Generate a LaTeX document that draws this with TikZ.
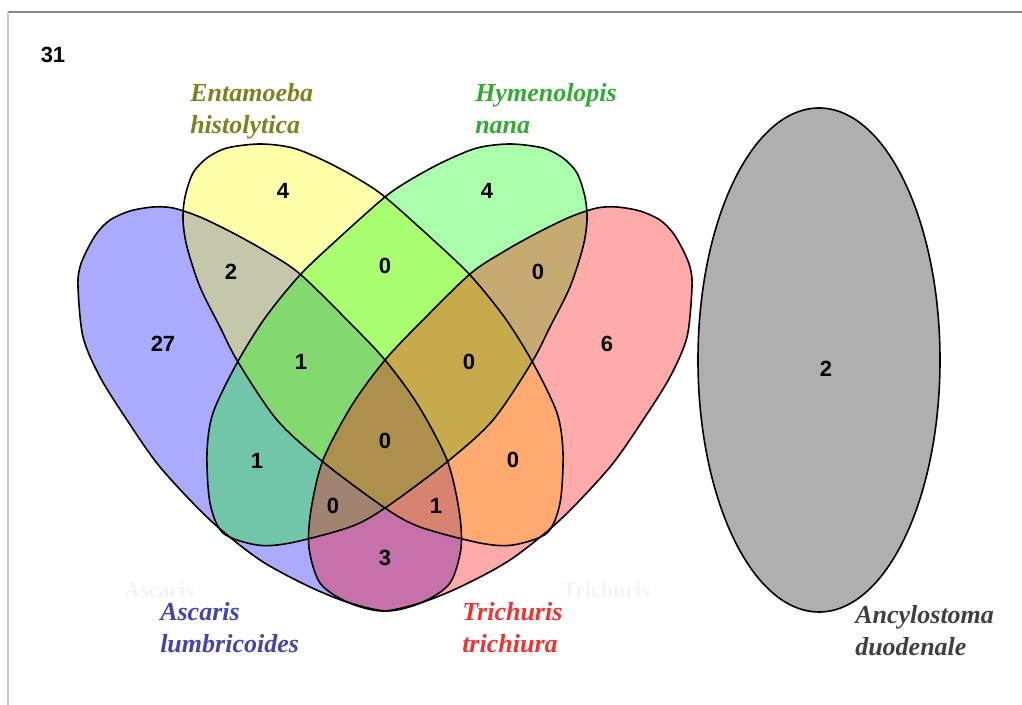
\documentclass[tikz,border=0pt]{standalone}
\usepackage{fontspec}
\setmainfont{Liberation Serif}
\setsansfont{Liberation Sans}
\definecolor{ascfill}{RGB}{0,0,255}
\definecolor{entfill}{RGB}{255,255,0}
\definecolor{hymfill}{RGB}{0,255,0}
\definecolor{trifill}{RGB}{255,0,0}
\definecolor{ancfill}{RGB}{175,175,175}
\definecolor{asctext}{RGB}{68,68,170}
\definecolor{enttext}{RGB}{128,128,32}
\definecolor{hymtext}{RGB}{51,170,51}
\definecolor{tritext}{RGB}{238,51,51}
\definecolor{anctext}{RGB}{64,64,64}
\definecolor{ghost}{RGB}{242,242,252}
\tikzset{
  setfill/.style={fill=#1,fill opacity=0.3333},
  setline/.style={draw=black,line width=1.2pt},
  countlbl/.style={font=\fontsize{16.5}{19}\sffamily\bfseries,inner sep=0pt},
  setname/.style={font=\fontsize{19.5}{24}\bfseries\itshape,text=#1,align=left,anchor=base west,inner sep=0pt},
  ghostname/.style={font=\fontsize{16.5}{20}\bfseries,text=ghost,anchor=base west,inner sep=0pt}
}
% outer set (left one, mirrored for the right one)
\newcommand\outershape{plot[smooth cycle,tension=0.5] coordinates {(78,287) (80,267) (87,250) (97,233) (110,220) (130,211) (153,207) (173,208) (200,217) (233,233) (267,252) (300,274) (350,323) (385,360) (418,405) (447,460) (459,510) (461,548) (450,583) (423,602) (388,611) (350,603) (310,587) (260,560) (210,520) (160,467) (127,420) (100,377) (83,337)}}
% inner set (left one, mirrored for the right one)
\newcommand\innershape{plot[smooth cycle,tension=0.5] coordinates {(260,144) (293,148) (327,162) (360,180) (385,197) (430,237) (470,275) (505,318) (533,363) (557,413) (563,453) (560,503) (547,533) (513,545) (480,543) (420,527) (385,508) (323,462) (277,420) (238,362) (220,327) (200,287) (187,247) (183,220) (185,197) (193,173) (207,158) (227,148)}}
\begin{document}
\begin{tikzpicture}[x=0.75pt,y=-0.75pt]
  \useasboundingbox (0,0) rectangle (1022,705);
  \draw[line width=1.1pt,color={rgb,255:red,136;green,136;blue,136}] (8,12) -- (1022,12);
  \draw[line width=1.1pt,color={rgb,255:red,200;green,200;blue,200}] (8,12) -- (8,705);
  % fills first, outlines after
  \fill[setfill=ascfill] \outershape;
  \fill[setfill=entfill] \innershape;
  \begin{scope}[shift={(770,0)},xscale=-1]
    \fill[setfill=hymfill] \innershape;
    \fill[setfill=trifill] \outershape;
  \end{scope}
  \draw[setline] \outershape;
  \draw[setline] \innershape;
  \begin{scope}[shift={(770,0)},xscale=-1]
    \draw[setline] \innershape;
    \draw[setline] \outershape;
  \end{scope}
  \draw[setline,fill=ancfill] (819,360) ellipse [x radius=121,y radius=252];
  % counts
  \node[countlbl] (total) at (53,55) {31};
  \node[countlbl] (e) at (283,191) {4};
  \node[countlbl] (h) at (487,191) {4};
  \node[countlbl] (a) at (163,344) {27};
  \node[countlbl] (t) at (607,344) {6};
  \node[countlbl] (ae) at (231,272) {2};
  \node[countlbl] (eh) at (385,266) {0};
  \node[countlbl] (ht) at (538,272) {0};
  \node[countlbl] (aeh) at (301,362) {1};
  \node[countlbl] (eht) at (469,362) {0};
  \node[countlbl] (aeht) at (385,441) {0};
  \node[countlbl] (ah) at (257,461) {1};
  \node[countlbl] (et) at (513,460) {0};
  \node[countlbl] (aht) at (333,506) {0};
  \node[countlbl] (aet) at (436,506) {1};
  \node[countlbl] (at) at (385,558) {3};
  \node[countlbl] (anc) at (826,369) {2};
  % set names
  \node[ghostname] (ascghost) at (124,598) {Ascaris};
  \node[ghostname] (trighost) at (562,598) {Trichuris};
  \node[setname=enttext] (entname) at (190,134) {Entamoeba\\histolytica};
  \node[setname=hymtext] (hymname) at (475,134) {Hymenolopis\\nana};
  \node[setname=asctext] (ascname) at (160,653) {Ascaris\\lumbricoides};
  \node[setname=tritext] (triname) at (462,653) {Trichuris\\trichiura};
  \node[setname=anctext] (ancname) at (855,656) {Ancylostoma\\duodenale};
\end{tikzpicture}
\end{document}
